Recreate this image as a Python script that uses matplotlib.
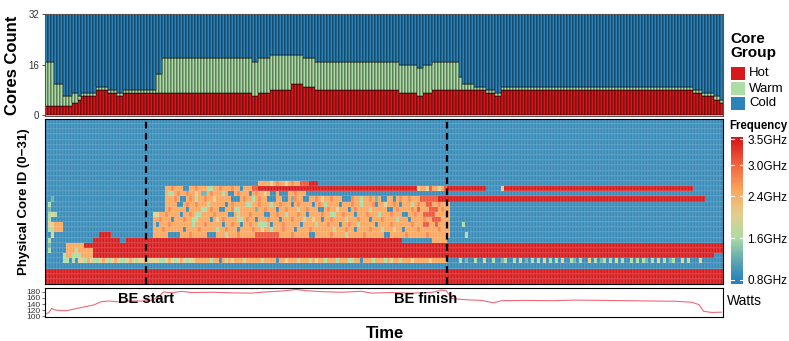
import numpy as np
import matplotlib.pyplot as plt
from matplotlib.colors import LinearSegmentedColormap, Normalize
from matplotlib.patches import Rectangle

plt.rcParams['font.family'] = ['Liberation Sans', 'DejaVu Sans']

# ---- top panel: core groups per time step (run lengths) ----
seg_len = [3, 3, 3, 2, 1, 5, 4, 3, 2, 11, 2, 30, 2, 4, 7, 4, 4, 28, 6, 2, 3, 9, 1, 4, 4, 3, 2, 64, 3, 4, 2, 1]
seg_hot = [3, 3, 3, 4, 5, 6, 8, 7, 6, 7, 7, 7, 6, 7, 8, 10, 9, 8, 7, 6, 7, 8, 8, 8, 8, 7, 6, 8, 7, 6, 5, 4]
seg_busy = [17, 10, 6, 7, 6, 7, 9, 8, 7, 8, 13, 18, 17, 18, 19, 19, 18, 17, 16, 15, 16, 17, 12, 10, 9, 8, 7, 9, 8, 7, 6, 5]
n_cores = 32
group_names = ['Hot', 'Warm', 'Cold']

# ---- heatmap: frequency per core (row 0 at top) ----
level = {'b': 0.88, 'c': 1.25, 'g': 1.6, 'y': 2.05, 'o': 2.5, 'p': 2.75, 'q': 3.1, 'r': 3.5}
# (row, first column, end column, level)
freq_spans = [
    (12, 71, 85, 'o'), (12, 85, 88, 'q'), (12, 88, 91, 'r'),
    (13, 40, 71, 'o'), (13, 71, 124, 'r'), (13, 124, 134, 'o'), (13, 134, 147, 'r'),
    (13, 152, 153, 'y'), (13, 153, 216, 'r'),
    (14, 40, 87, 'o'),
    (15, 40, 125, 'o'), (15, 125, 131, 'q'), (15, 131, 220, 'r'),
    (16, 40, 135, 'o'), (17, 40, 135, 'o'),
    (18, 36, 135, 'o'), (19, 36, 135, 'o'), (20, 36, 135, 'o'), (21, 36, 135, 'o'), (22, 36, 135, 'o'),
    (22, 18, 22, 'r'),
    (23, 16, 25, 'r'), (23, 27, 119, 'r'), (23, 129, 134, 'o'),
    (24, 7, 13, 'o'), (24, 13, 226, 'r'),
    (25, 7, 10, 'o'), (25, 10, 11, 'g'), (25, 11, 16, 'o'), (25, 16, 226, 'r'),
    (26, 6, 7, 'g'), (26, 7, 9, 'o'), (26, 9, 12, 'g'), (26, 12, 16, 'o'), (26, 16, 223, 'r'),
    (27, 6, 8, 'g'), (27, 9, 10, 'g'), (27, 11, 50, 'y'), (27, 50, 134, 'o'),
    (29, 0, 226, 'r'), (30, 0, 226, 'r'), (31, 0, 226, 'r'),
]
# (row, level, columns) single cells inside the busy region
freq_spots = [
    (12, 'y', [75, 80]), (12, 'p', [77, 82]),
    (13, 'b', [46, 47, 65]), (13, 'g', [54, 55]), (13, 'p', [42, 50, 58, 62]), (13, 'q', [69, 70]),
    (13, 'y', [124, 127, 131]), (13, 'q', [128, 133]),
    (14, 'g', [41, 42, 59]), (14, 'c', [52, 53]), (14, 'b', [61, 62, 68, 75, 76, 78, 79, 80]),
    (14, 'p', [44, 47, 55, 64, 70, 83]), (14, 'y', [50, 73]),
    (15, 'b', [45, 46, 62, 63, 64, 74, 75, 76, 79, 80, 86, 87, 99, 100, 101, 112, 113, 116]),
    (15, 'g', [50, 69, 105]), (15, 'p', [43, 48, 53, 66, 71, 83, 90, 95, 102, 108, 118, 121]),
    (15, 'y', [56, 92]), (15, 'c', [2, 82, 110]),
    (16, 'b', [44, 45, 60, 82, 89, 98, 110, 118]), (16, 'g', [1, 54, 67, 68, 75, 93, 105, 122]),
    (16, 'p', [47, 50, 62, 71, 78, 84, 91, 102, 109, 116, 124, 131]), (16, 'y', [113]),
    (16, 'q', [127, 128]),
    (17, 'b', [47, 58, 59, 77, 91, 92, 101, 114, 115]), (17, 'g', [52, 53, 63, 64, 84, 108]),
    (17, 'c', [1, 70]), (17, 'p', [41, 55, 62, 73, 80, 87, 94, 103, 117, 122, 132]),
    (17, 'y', [97]), (17, 'q', [124, 128, 129, 130]),
    (18, 'y', [36, 37, 2]), (18, 'g', [1, 3, 50, 51, 64, 80, 95, 96, 111]),
    (18, 'b', [45, 61, 62, 73, 74, 87, 103, 119, 120]),
    (18, 'p', [40, 48, 56, 68, 77, 84, 92, 99, 107, 115, 123]), (18, 'q', [126, 127, 128, 129]),
    (19, 'g', [1, 49, 50, 64, 65, 86, 100, 117]), (19, 'b', [42, 55, 70, 78, 92, 108, 121]),
    (19, 'p', [38, 46, 59, 67, 74, 82, 95, 104, 112, 126]), (19, 'y', [57, 89]),
    (19, 'q', [129, 130, 131]),
    (20, 'y', [1, 2]), (20, 'o', [3, 4, 5]), (20, 'b', [37, 59, 65, 75, 85, 98, 110]),
    (20, 'g', [49, 71, 72, 73, 90, 104, 139]), (20, 'p', [41, 53, 62, 68, 79, 94, 101, 115, 122]),
    (20, 'q', [126, 127, 130]),
    (21, 'g', [1, 2, 57, 75, 96, 112]), (21, 'o', [3, 4, 5]), (21, 'b', [46, 64, 83, 103, 119]),
    (21, 'p', [39, 51, 60, 69, 79, 88, 100, 108, 124, 131]), (21, 'y', [72, 116]),
    (22, 'y', [2]), (22, 'b', [41, 42, 43, 44, 54, 55, 56, 88, 89, 113, 114]),
    (22, 'g', [60, 100, 140]), (22, 'q', [70, 71, 72, 73, 74, 75, 76, 77]),
    (22, 'p', [48, 64, 82, 95, 106, 120, 127]),
    (23, 'g', [1]), (24, 'c', [1]), (25, 'g', [1]),
    (27, 'g', [13, 16, 17, 21, 25, 26, 30, 34, 38, 39, 43, 47, 55, 60, 66, 72, 84, 88, 93, 97,
               101, 102, 109, 113, 118,
               138, 143, 149, 153, 156, 162, 164, 168, 170, 175, 178, 183, 186, 188, 192, 195,
               197, 199, 202, 206, 209, 214]),
    (27, 'o', [14, 19, 23, 28, 33, 41, 45]),
    (27, 'b', [58, 77, 105]),
    (27, 'y', [62, 80, 90, 115, 122, 128, 146, 158, 166, 172, 181, 190, 204, 212, 218]),
    (27, 'c', [140, 152, 160, 176, 185, 200, 208]),
]
freq_ticks = [0.8, 1.6, 2.4, 3.0, 3.5]

# ---- bottom panel: power draw ----
power_t = [0, 0.8, 1.7, 3, 5, 6.7, 10, 13.3, 15.8, 18.3, 20.8, 24, 26.7, 31.7, 35, 37.5, 39,
           41.7, 45, 48.3, 55, 61.7, 68.3, 71.7, 78.3, 83.3, 86.7, 91.7, 98.3, 105, 108.3,
           115, 121.7, 128.3, 131.7, 133.3, 135, 140, 145, 149, 151.7, 160, 168.3, 176.7,
           185, 193.3, 201.7, 210, 215, 217.5, 219, 221.7, 225]
power_w = [108, 112, 125, 120, 118, 118, 125, 132, 137, 148, 150, 147, 150, 150, 152, 165, 180,
           177, 182, 178, 179, 177, 176, 179, 183, 188, 184, 181, 179, 182, 176,
           178, 176, 178, 186, 184, 158, 154, 152, 144, 151, 152, 151, 153,
           152, 151, 150, 149, 146, 138, 116, 112, 113]
power_ticks = [100, 120, 140, 160, 180]
be_start, be_finish = 33.2, 133.5

HOT, WARM, COLD = '#d7191c', '#abdda4', '#2b83ba'

hot = np.repeat(seg_hot, seg_len)
busy = np.repeat(seg_busy, seg_len)
warm = busy - hot
cold = n_cores - busy
n_t = len(hot)
t = np.arange(n_t)

grid = np.full((n_cores, n_t), level['b'])
for row, c0, c1, lv in freq_spans:
    grid[row, c0:c1] = level[lv]
for row, lv, cols in freq_spots:
    grid[row, cols] = level[lv]

cmap = LinearSegmentedColormap.from_list('freq', [
    (0.0, '#2b83ba'), ((1.2 - 0.8) / 2.7, '#64abb0'), ((1.6 - 0.8) / 2.7, '#abdda4'),
    ((2.05 - 0.8) / 2.7, '#e2cf8e'), ((2.5 - 0.8) / 2.7, '#fba95f'),
    ((3.0 - 0.8) / 2.7, '#f26642'), (1.0, '#d7191c')])
norm = Normalize(0.8, 3.5)

W, H = 789, 341
fig = plt.figure(figsize=(W / 100, H / 100), dpi=100)


def box(x0, y0, x1, y1):
    return [x0 / W, 1 - y1 / H, (x1 - x0) / W, (y1 - y0) / H]


# top stacked bars
ax_bar = fig.add_axes(box(45, 14, 723, 116))
ax_bar.bar(t, hot, width=1, color=HOT, edgecolor='black', linewidth=0.35)
ax_bar.bar(t, warm, bottom=hot, width=1, color=WARM, edgecolor='black', linewidth=0.35)
ax_bar.bar(t, cold, bottom=busy, width=1, color=COLD, edgecolor='black', linewidth=0.35)
ax_bar.set_xlim(-0.5, n_t - 0.5)
ax_bar.set_ylim(-0.2, 32)
ax_bar.set_xticks([])
ax_bar.set_yticks([0, 16, 32])
ax_bar.tick_params(axis='y', labelsize=7, colors='#333333', length=2.5, width=0.6, pad=1.5)
for s in ax_bar.spines.values():
    s.set_color('#555555')
    s.set_linewidth(0.8)
ax_bar.set_ylabel('Cores Count', fontsize=12, fontweight='bold', labelpad=3)
ax_bar.yaxis.set_label_coords(-0.037, 0.5)

# legend for core groups
fig.text(730 / W, 1 - 46 / H, 'Core\nGroup', fontsize=11, fontweight='bold',
         va='center', ha='left', linespacing=1.05)
for i, (name, col) in enumerate(zip(group_names, [HOT, WARM, COLD])):
    y0 = 67 + 15 * i
    fig.patches.append(Rectangle((731 / W, 1 - (y0 + 13) / H), 14 / W, 13 / H,
                                 transform=fig.transFigure, facecolor=col, edgecolor='none'))
    fig.text(749 / W, 1 - (y0 + 6.5) / H, name, fontsize=9.5, va='center', ha='left')

# heatmap
ax_heat = fig.add_axes(box(45, 119, 723, 284))
ax_heat.pcolormesh(np.arange(n_t + 1) - 0.5, np.arange(n_cores + 1), grid, cmap=cmap, norm=norm,
                   edgecolors=(1, 1, 1, 0.08), linewidth=0.3)
ax_heat.set_xlim(-0.5, n_t - 0.5)
ax_heat.set_ylim(n_cores, 0)
ax_heat.set_xticks([])
ax_heat.set_yticks([])
for s in ax_heat.spines.values():
    s.set_linewidth(0.8)
for xv in [be_start, be_finish]:
    ax_heat.axvline(xv, color='black', linewidth=1.6, linestyle=(0, (3, 2)))
ax_heat.set_ylabel('Physical Core ID (0\u221231)', fontsize=9.5, fontweight='bold')
ax_heat.yaxis.set_label_coords(-0.022, 0.5)

# frequency colour bar
ax_cb = fig.add_axes(box(731, 137, 743, 284))
ax_cb.imshow(np.linspace(3.54, 0.72, 300)[:, None], aspect='auto', cmap=cmap, norm=norm,
             extent=[0, 1, 0.72, 3.54])
ax_cb.set_xticks([])
ax_cb.yaxis.tick_right()
ax_cb.set_yticks(freq_ticks)
ax_cb.set_yticklabels([f'{v:.1f}GHz' for v in freq_ticks])
ax_cb.tick_params(axis='y', length=0, labelsize=8.5, pad=3)
for v in freq_ticks:
    ax_cb.plot([0, 0.22], [v, v], color='white', linewidth=0.8)
    ax_cb.plot([0.78, 1], [v, v], color='white', linewidth=0.8)
for s in ax_cb.spines.values():
    s.set_visible(False)
fig.text(729 / W, 1 - 126 / H, 'Frequency', fontsize=8.3, fontweight='bold', va='center', ha='left')

# power panel
ax_pow = fig.add_axes(box(45, 288, 723, 317))
ax_pow.plot(power_t, power_w, color='#ec6a78', linewidth=0.8)
ax_pow.set_xlim(-0.5, n_t - 0.5)
ax_pow.set_ylim(97, 193)
ax_pow.set_xticks([])
ax_pow.set_yticks(power_ticks)
ax_pow.tick_params(axis='y', labelsize=6, colors='#333333', length=2, width=0.5, pad=1)
for s in ax_pow.spines.values():
    s.set_linewidth(0.8)
ax_pow.text(be_start, 155, 'BE start', fontsize=10.5, fontweight='bold', ha='center', va='center')
ax_pow.text(be_finish + 3.5, 155, 'BE finish', fontsize=10.5, fontweight='bold', ha='right',
            va='center')
fig.text(727 / W, 1 - 301 / H, 'Watts', fontsize=10, va='center', ha='left')
fig.text(385 / W, 1 - 334 / H, 'Time', fontsize=12, fontweight='bold', va='center', ha='center')

fig.savefig('out.png', dpi=100)
